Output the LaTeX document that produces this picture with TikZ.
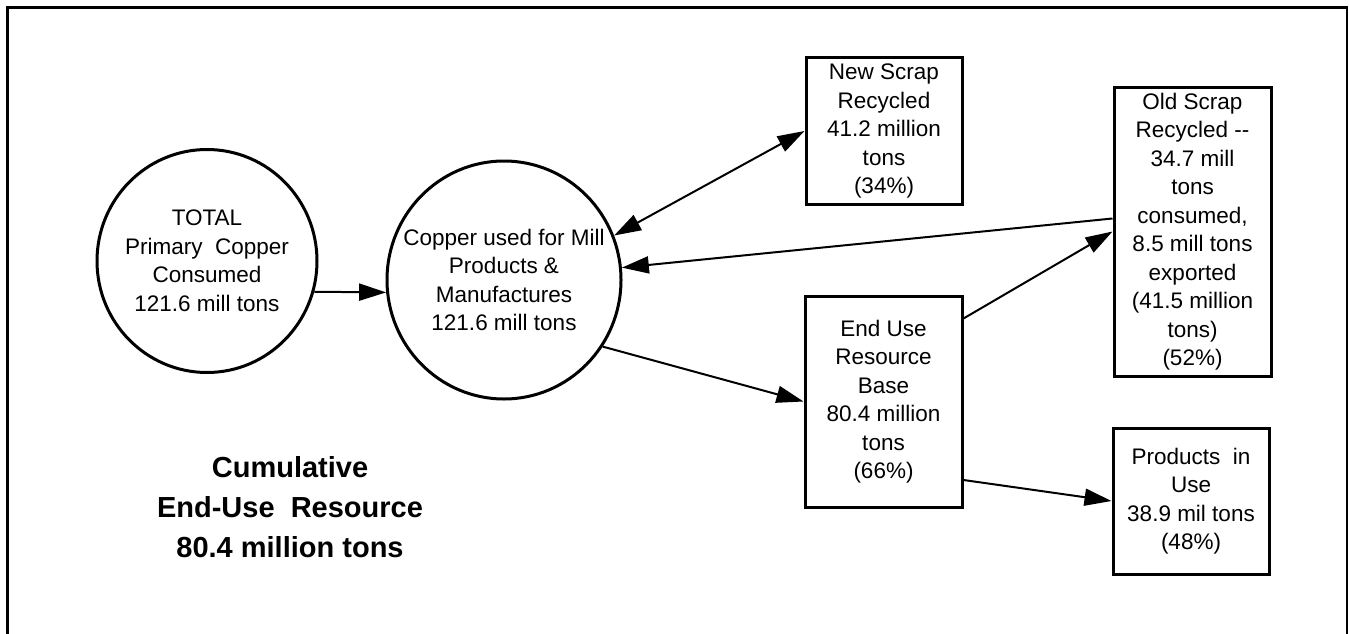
\documentclass[tikz,border=0pt]{standalone}
\usepackage{fontspec}
\setmainfont{Liberation Sans}
\usetikzlibrary{arrows.meta,shapes.geometric}
\begin{document}
\begin{tikzpicture}[x=1pt,y=-1pt,
  lbl/.style={font=\fontsize{22.5}{28.5}\selectfont, align=center, inner sep=0pt},
  circ/.style={draw, ellipse, line width=3pt, inner sep=0pt},
  box/.style={lbl, draw, rectangle, line width=3pt},
  arr/.style={line width=2pt, -{Triangle[length=27pt,width=17pt]}},
  darr/.style={line width=2pt, {Triangle[length=27pt,width=17pt]}-{Triangle[length=27pt,width=17pt]}}
  ]
\useasboundingbox (0,0) rectangle (1349,634);
\fill[white] (0,0) rectangle (1349,634);
\begin{scope}
\clip (0,0) rectangle (1349,634);
\draw[line width=2.5pt] (7.5,660) -- (7.5,7.5) -- (1347,7.5) -- (1347,660);
\end{scope}

% circles
\node[circ, minimum width=220pt, minimum height=223pt] (c1) at (207,261) {};
\node[lbl] (t1) at (c1.center) {TOTAL\\Primary~~Copper\\Consumed\\121.6 mill tons};
\node[circ, minimum width=234pt, minimum height=238pt] (c2) at (504,280) {};
\node[lbl] (t2) at (c2.center) {Copper used for Mill\\Products \&\\Manufactures\\121.6 mill tons};

% boxes
\node[box, minimum width=156pt, minimum height=146pt] (ns) at (884,131)
  {New Scrap\\Recycled\\41.2 million\\tons\\(34\%)};
\node[box, minimum width=157pt, minimum height=289pt] (os) at (1192.5,231.5)
  {Old Scrap\\Recycled -{}-\\34.7 mill\\tons\\consumed,\\8.5 mill tons\\exported\\(41.5 million\\tons)\\(52\%)};
\node[box, minimum width=157pt, minimum height=211pt] (eu) at (883.5,401.5)
  {End Use\\Resource\\Base\\80.4 million\\tons\\(66\%)};
\node[box, minimum width=156pt, minimum height=146pt] (pu) at (1191,501)
  {Products~~in\\Use\\38.9 mil tons\\(48\%)};

% bottom text
\node[font=\bfseries\fontsize{29}{40}\selectfont, align=center, inner sep=0pt] (cum) at (290,507.5)
  {Cumulative\\End-Use~~Resource\\80.4 million tons};

% connectors
\draw[arr] (c1.-16) -- (c2.186);
\draw[darr] (c2.22) -- (ns.west);
\draw[arr] ([yshift=13pt]os.west) -- (c2.6);
\draw[arr] (c2.-34) -- (eu.west);
\draw[arr] ([yshift=-24pt]eu.north east) -- (os.west);
\draw[arr] ([yshift=-78.5pt]eu.east) -- (pu.west);
\end{tikzpicture}
\end{document}
